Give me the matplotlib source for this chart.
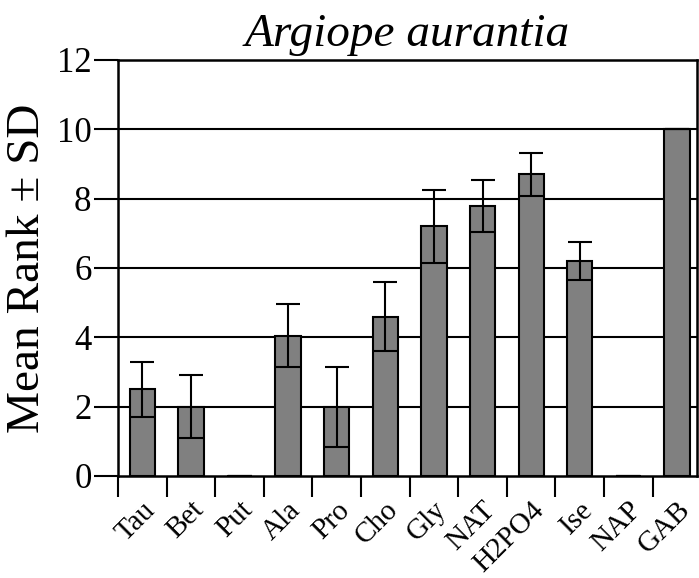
import matplotlib
matplotlib.use("Agg")
import matplotlib.pyplot as plt
import matplotlib.transforms as mtransforms
import numpy as np

plt.rcParams['font.family'] = ['Liberation Serif', 'DejaVu Serif']

# data
cats = ["Tau", "Bet", "Put", "Ala", "Pro", "Cho", "Gly", "NAT", "H2PO4", "Ise", "NAP", "GAB"]
means = [2.5, 2.0, 0.0, 4.05, 2.0, 4.6, 7.2, 7.8, 8.7, 6.2, 0.0, 10.0]
sds = [0.8, 0.9, 0.0, 0.9, 1.15, 1.0, 1.05, 0.75, 0.62, 0.55, 0.0, 0.0]
yticks = [0, 2, 4, 6, 8, 10, 12]

fig = plt.figure(figsize=(6.99, 5.78), dpi=100)
ax = fig.add_axes([0.1688, 0.1765, 0.8282, 0.7197])

x = np.arange(len(cats)) + 0.5
ax.bar(x, means, width=0.52, color="#808080", edgecolor="black", linewidth=1.5, zorder=3)
ax.errorbar(x, means, yerr=sds, fmt="none", ecolor="black", elinewidth=1.5,
            capsize=8.5, capthick=1.5, zorder=4)

for y in yticks[1:-1]:
    ax.axhline(y, color="black", linewidth=1.5, zorder=1)

ax.set_xlim(0, 11.91)
ax.set_ylim(0, 12)
ax.set_yticks(yticks)
ax.tick_params(axis="y", direction="out", length=17, width=1.5, labelsize=25, pad=2)

ax.set_xticks(np.arange(len(cats)))
ax.set_xticklabels([])
ax.set_xticks(x, minor=True)
ax.set_xticklabels(cats, minor=True, rotation=45, ha="right", va="top", fontsize=21)
ax.tick_params(axis="x", which="major", direction="out", length=15, width=1.5)
ax.tick_params(axis="x", which="minor", length=0, pad=15)
offset = mtransforms.ScaledTranslation(13 / 72, 0, fig.dpi_scale_trans)
for lab in ax.xaxis.get_minorticklabels():
    lab.set_transform(lab.get_transform() + offset)

for s in ax.spines.values():
    s.set_linewidth(1.8)

ax.set_ylabel("Mean Rank ± SD", fontsize=34, labelpad=6)
ax.set_title("Argiope aurantia", fontsize=34, style="italic", pad=10)

fig.savefig("out.png", dpi=100)
